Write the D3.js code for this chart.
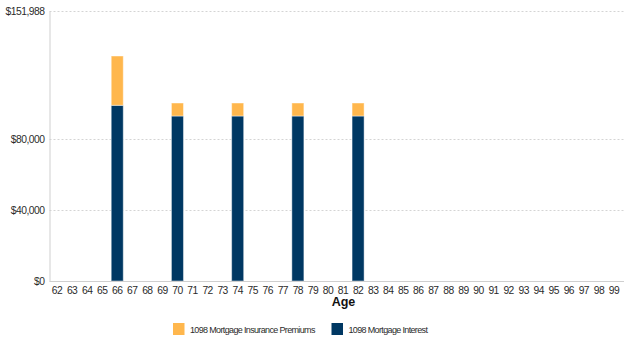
<!DOCTYPE html>
<html>
<head>
<meta charset="utf-8">
<script src="https://cdn.jsdelivr.net/npm/d3@7"></script>
<style>
  html, body { margin: 0; padding: 0; background: #fff; }
  svg { display: block; font-family: "Liberation Sans", Arial, sans-serif; }
</style>
</head>
<body>
<svg id="chart" width="624" height="338"></svg>
<script>
// Ages shown along the x axis
const ages = d3.range(62, 100).map(String);

// Yearly amounts by age (only the years with payments carry values)
const interestAges = ["66", "70", "74", "78", "82"];
const mortgageInterest = [98900, 92880, 92880, 92880, 92880];
const insurancePremiums = [27757, 7320, 7320, 7320, 7320];

// Value-axis ticks
const yTicks = [0, 40000, 80000, 151988];
const yMax = 151988;

const seriesNames = ["1098 Mortgage Interest", "1098 Mortgage Insurance Premiums"];
const seriesColors = ["#003863", "#FFB74D"];
const legendOrder = [1, 0];

const svg = d3.select("#chart");
const margin = { left: 49.5, right: 2.5, top: 11, bottom: 57 };
const W = 624, H = 338;
const x0 = margin.left, x1 = W - margin.right;
const y0 = H - margin.bottom, y1 = margin.top;

const x = d3.scaleBand().domain(ages).range([x0, x1]).paddingInner(0.2).paddingOuter(0.1);
const y = d3.scaleLinear().domain([0, yMax]).range([y0, y1]);

// Build stacked rows
const rows = interestAges.map((a, i) => ({
  age: a,
  interest: mortgageInterest[i],
  premiums: insurancePremiums[i]
}));
const stack = d3.stack().keys(["interest", "premiums"]);
const stacked = stack(rows);

// Dotted gridlines
svg.append("g")
  .selectAll("line")
  .data(yTicks.filter(t => t > 0))
  .join("line")
  .attr("x1", x0).attr("x2", x1 + 2)
  .attr("y1", d => Math.round(y(d)) + 0.5)
  .attr("y2", d => Math.round(y(d)) + 0.5)
  .attr("stroke", "#d4d4d4")
  .attr("stroke-dasharray", "2,2");

// Value axis
const yAxis = svg.append("g")
  .attr("transform", `translate(${x0},0)`)
  .call(d3.axisLeft(y).tickValues(yTicks).tickSize(0).tickPadding(5)
    .tickFormat(d => "$" + d3.format(",")(d)));
yAxis.select(".domain").attr("stroke", "#cfcfcf");
yAxis.selectAll("text")
  .attr("fill", "#2b2b2b")
  .style("font-size", "10.3px")
  .style("letter-spacing", "-0.5px");

// Bars
svg.append("g")
  .selectAll("g")
  .data(stacked)
  .join("g")
  .attr("fill", (d, i) => seriesColors[i])
  .selectAll("rect")
  .data(d => d)
  .join("rect")
  .attr("x", d => x(d.data.age))
  .attr("width", x.bandwidth())
  .attr("y", d => y(d[1]))
  .attr("height", d => y(d[0]) - y(d[1]))
  .attr("stroke", "rgba(255,255,255,0.45)")
  .attr("stroke-width", 1);

// Category axis
const xAxis = svg.append("g")
  .attr("transform", `translate(0,${y0 + 0.5})`)
  .call(d3.axisBottom(x).tickSize(0).tickPadding(5));
xAxis.select(".domain").attr("stroke", "#cfcfcf").attr("d", `M${x0},0H${W}`);
xAxis.selectAll("text")
  .attr("fill", "#2b2b2b")
  .style("font-size", "10.3px")
  .style("letter-spacing", "-0.55px");

// Axis title
svg.append("text")
  .attr("x", 343.5)
  .attr("y", 306)
  .attr("text-anchor", "middle")
  .attr("font-weight", "bold")
  .attr("font-size", "12.5px")
  .attr("fill", "#111")
  .text("Age");

// Legend
const legendX = [173, 331.5];
const legend = svg.append("g")
  .selectAll("g")
  .data(legendOrder)
  .join("g")
  .attr("transform", (d, i) => `translate(${legendX[i]},323)`);
legend.append("rect")
  .attr("width", 11.5).attr("height", 12)
  .attr("fill", d => seriesColors[d]);
legend.append("text")
  .attr("x", 17)
  .attr("y", 9.5)
  .attr("font-size", "9px")
  .attr("fill", "#2b2b2b")
  .style("letter-spacing", "-0.65px")
  .text(d => seriesNames[d]);
</script>
</body>
</html>
